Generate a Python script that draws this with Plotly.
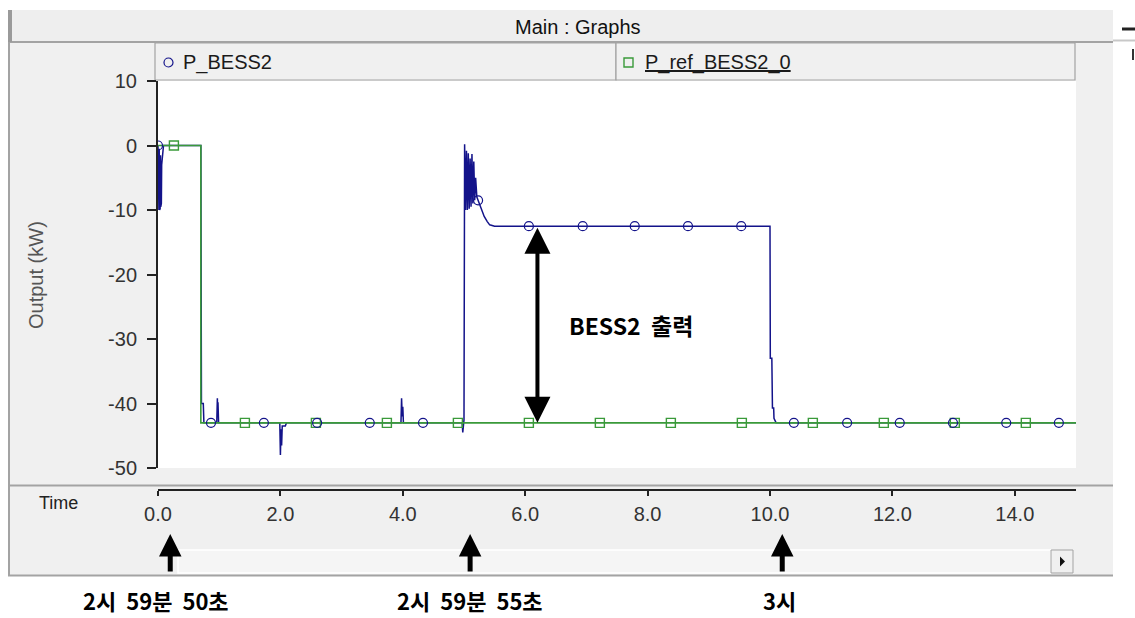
import plotly.graph_objects as go

# ---- P_BESS2 : measured BESS2 output (kW) over simulation time (s)
bess_t = [0.00, 0.015, 0.02, 0.025, 0.03, 0.035, 0.04, 0.045, 0.05, 0.055, 0.06, 0.07, 0.09,
          0.70, 0.705, 0.71, 0.74, 0.75, 0.96, 0.97, 0.975, 0.98, 0.99,
          1.99, 2.00, 2.01, 2.02, 2.03, 2.08, 2.10,
          3.97, 3.98, 3.99, 4.00, 4.01,
          4.97, 4.98, 5.00, 5.01, 5.025, 5.04, 5.055, 5.07, 5.085, 5.10, 5.115, 5.13,
          5.145, 5.16, 5.175, 5.19, 5.21, 5.23, 5.27, 5.30, 5.33, 5.38, 5.42, 5.50,
          10.00, 10.005, 10.03, 10.04, 10.06, 10.065, 10.10, 15.00]
bess_kw = [0.0, -10.0, -0.5, -10.0, -1.0, -9.8, -1.5, -9.5, -2.5, -9.0, -3.0, -2.0, 0.0,
           0.0, -27.0, -40.0, -40.0, -43.0, -43.0, -39.2, -42.0, -39.8, -43.0,
           -43.0, -48.0, -44.0, -46.5, -43.5, -43.5, -43.0,
           -43.0, -39.2, -42.0, -40.5, -43.0,
           -43.0, -44.5, -42.5, 0.2, -10.0, -0.8, -10.0, -1.2, -9.8, -2.0, -9.5, -1.3,
           -9.0, -2.5, -8.5, -5.0, -8.0, -8.5, -9.5, -10.3, -11.0, -11.8, -12.3, -12.5,
           -12.5, -33.0, -33.0, -40.7, -40.7, -42.3, -43.0, -43.0]

# ---- P_ref_BESS2_0 : reference set-point (kW)
ref_t = [0.0, 0.70, 0.70, 15.0]
ref_kw = [0.0, 0.0, -43.0, -43.0]

# symbol sample points along each curve
bess_mark_t = [0.0, 0.866, 1.73, 2.60, 3.46, 4.33, 5.23, 6.06, 6.94, 7.79,
               8.66, 9.53, 10.39, 11.26, 12.12, 12.99, 13.86, 14.72]
bess_mark_kw = [0.0, -43.0, -43.0, -43.0, -43.0, -43.0, -8.5, -12.5, -12.5, -12.5,
                -12.5, -12.5, -43.0, -43.0, -43.0, -43.0, -43.0, -43.0]
ref_mark_t = [0.26, 1.42, 2.58, 3.74, 4.90, 6.06, 7.22, 8.38, 9.54, 10.70,
              11.86, 13.02, 14.18]
ref_mark_kw = [0.0, -43.0, -43.0, -43.0, -43.0, -43.0, -43.0, -43.0, -43.0, -43.0,
               -43.0, -43.0, -43.0]

x_ticks = [0, 2, 4, 6, 8, 10, 12, 14]
x_tick_labels = ["0.0", "2.0", "4.0", "6.0", "8.0", "10.0", "12.0", "14.0"]
y_ticks = [10, 0, -10, -20, -30, -40, -50]
y_tick_labels = ["10", "0", "-10", "-20", "-30", "-40", "-50"]

# output step highlighted by the double arrow
gap_t = 6.2
gap_top_kw = -12.5
gap_bottom_kw = -43.0
gap_label = "BESS2\u00a0\u00a0출력"

# wall-clock instants marked under the time axis
event_t = [0.2, 5.1, 10.2]
event_labels = ["2시\u00a0\u00a059분\u00a0\u00a050초", "2시\u00a0\u00a059분\u00a0\u00a055초", "3시"]
event_label_shift = [-14, 0, -3]

BLUE = "#13138a"
GREEN = "#3a9a3a"
PANEL = "#f0f0f0"
EDGE = "#a3a3a3"
LATIN = "Liberation Sans, Arial, sans-serif"
KOREAN = "Noto Sans CJK KR, sans-serif"

W, H = 1135, 618
L, R, T, B = 158, 1076, 81, 490          # plotting region in pixels
Y_BOTTOM = 468                            # bottom of the white graph area


def px(x):
    return (x - L) / (R - L)


def py(y):
    return (B - y) / (B - T)


fig = go.Figure()
fig.add_trace(go.Scatter(x=bess_t, y=bess_kw, mode="lines",
                         line=dict(color=BLUE, width=1.5), hoverinfo="skip"))
fig.add_trace(go.Scatter(x=ref_t, y=ref_kw, mode="lines",
                         line=dict(color=GREEN, width=1.6), hoverinfo="skip"))
fig.add_trace(go.Scatter(x=ref_mark_t, y=ref_mark_kw, mode="markers",
                         marker=dict(symbol="square-open", size=9, color=GREEN,
                                     line=dict(width=1.4, color=GREEN))))
fig.add_trace(go.Scatter(x=bess_mark_t, y=bess_mark_kw, mode="markers",
                         marker=dict(symbol="circle-open", size=9, color=BLUE,
                                     line=dict(width=1.2, color=BLUE))))


def rect(x0, y0, x1, y1, fill, line=None, lw=1):
    return dict(type="rect", xref="paper", yref="paper", layer="below",
                x0=px(x0), x1=px(x1), y0=py(y1), y1=py(y0), fillcolor=fill,
                line=dict(color=line or fill, width=lw if line else 0))


def hline(x0, x1, y, color, lw):
    return dict(type="line", xref="paper", yref="paper", layer="below",
                x0=px(x0), x1=px(x1), y0=py(y), y1=py(y), line=dict(color=color, width=lw))


def vline(x, y0, y1, color, lw):
    return dict(type="line", xref="paper", yref="paper", layer="below",
                x0=px(x), x1=px(x), y0=py(y0), y1=py(y1), line=dict(color=color, width=lw))


shapes = [
    rect(8, 10, 1113, 576, PANEL),
    rect(10, 10, 1113, 42, "#eeeeee"),
    hline(8, 1113, 42, EDGE, 2),
    vline(9, 10, 576, EDGE, 2),
    rect(8, 10, 12, 42, "#9a9a9a"),
    rect(155, 43, 616, 80, PANEL, EDGE, 1.2),
    rect(616, 43, 1075, 80, PANEL, EDGE, 1.2),
    rect(L, 81, R, Y_BOTTOM, "#ffffff"),
    hline(8, 1113, 485.5, EDGE, 2),
    rect(178, 550, 1051, 573, "#f5f5f5", "#ffffff", 1.5),
    rect(1051, 550, 1073, 573, PANEL, EDGE, 1),
    hline(8, 1113, 575.5, EDGE, 2),
    hline(1113, 1135, 40.5, "#c8c8c8", 2),
    hline(1122, 1135, 29, "#222222", 3),
    vline(1133, 49, 60, "#333333", 2),
    dict(type="path", xref="paper", yref="paper", layer="below",
         path="M {:.5f},{:.5f} L {:.5f},{:.5f} L {:.5f},{:.5f} Z".format(
             px(1060), py(556.5), px(1060), py(566.5), px(1065), py(561.5)),
         fillcolor="#111111", line=dict(width=0)),
    dict(type="circle", xref="paper", yref="paper", layer="above",
         x0=px(164), x1=px(173), y0=py(67), y1=py(58),
         line=dict(color=BLUE, width=1.2)),
    dict(type="rect", xref="paper", yref="paper", layer="above",
         x0=px(624), x1=px(633), y0=py(67), y1=py(58),
         line=dict(color=GREEN, width=1.4)),
]


def label(text, x, y, size, color="#1a1a1a", xanchor="center", family=LATIN, **kw):
    return dict(text=text, xref="paper", yref="paper", x=px(x), y=py(y),
                xanchor=xanchor, yanchor="middle", showarrow=False,
                font=dict(family=family, size=size, color=color), **kw)


annotations = [
    label("Main : Graphs", 578, 27, 20, "#111111"),
    label("P_BESS2", 181, 62, 20, xanchor="left"),
    label("<u>P_ref_BESS2_0</u>", 643, 62, 20, xanchor="left"),
    label("Output (kW)", 36, 275, 20, "#555555", textangle=-90),
    label("Time", 58, 503, 18, "#222222"),
    dict(text="", x=gap_t, y=gap_bottom_kw, ax=gap_t, ay=gap_top_kw,
         xref="x", yref="y", axref="x", ayref="y", showarrow=True,
         arrowside="end+start", arrowhead=2, startarrowhead=2,
         arrowsize=1.3, startarrowsize=1.3, arrowwidth=4, arrowcolor="#000000"),
    dict(text="<b>" + gap_label + "</b>", x=gap_t + 0.48, y=-27.8, xref="x", yref="y",
         xanchor="left", yanchor="middle", showarrow=False,
         font=dict(family=KOREAN, size=23, color="#000000")),
]
for t, lab, dx in zip(event_t, event_labels, event_label_shift):
    annotations.append(dict(text="", x=t, y=py(534), xref="x", yref="paper",
                            ax=0, ay=39, axref="pixel", ayref="pixel", showarrow=True,
                            arrowhead=2, arrowsize=0.9, arrowwidth=5, arrowcolor="#000000"))
    annotations.append(dict(text="<b>" + lab + "</b>", x=t, y=py(600), xref="x", yref="paper",
                            xshift=dx, xanchor="center", yanchor="middle", showarrow=False,
                            borderpad=0,
                            font=dict(family=KOREAN, size=22, color="#000000")))

fig.update_layout(
    width=W, height=H,
    margin=dict(l=L, r=W - R, t=T, b=H - B, pad=0),
    paper_bgcolor="#ffffff", plot_bgcolor="rgba(0,0,0,0)",
    showlegend=False,
    shapes=shapes, annotations=annotations,
    xaxis=dict(range=[0, 15], anchor="free", position=0,
               tickvals=x_ticks, ticktext=x_tick_labels,
               ticks="outside", ticklen=5, tickwidth=1.5, tickcolor="#222222",
               showline=True, linecolor="#222222", linewidth=2,
               showgrid=False, zeroline=False, ticklabelstandoff=1,
               tickfont=dict(family=LATIN, size=20, color="#333333")),
    yaxis=dict(range=[-50, 10], domain=[(B - Y_BOTTOM) / (B - T), 1],
               tickvals=y_ticks, ticktext=y_tick_labels,
               ticks="outside", ticklen=9, tickwidth=1.5,
               tickcolor="#222222", showline=True, linecolor="#222222", linewidth=2,
               showgrid=False, zeroline=False, ticklabelstandoff=6,
               tickfont=dict(family=LATIN, size=20, color="#333333")),
)

fig.write_html("out.html")
